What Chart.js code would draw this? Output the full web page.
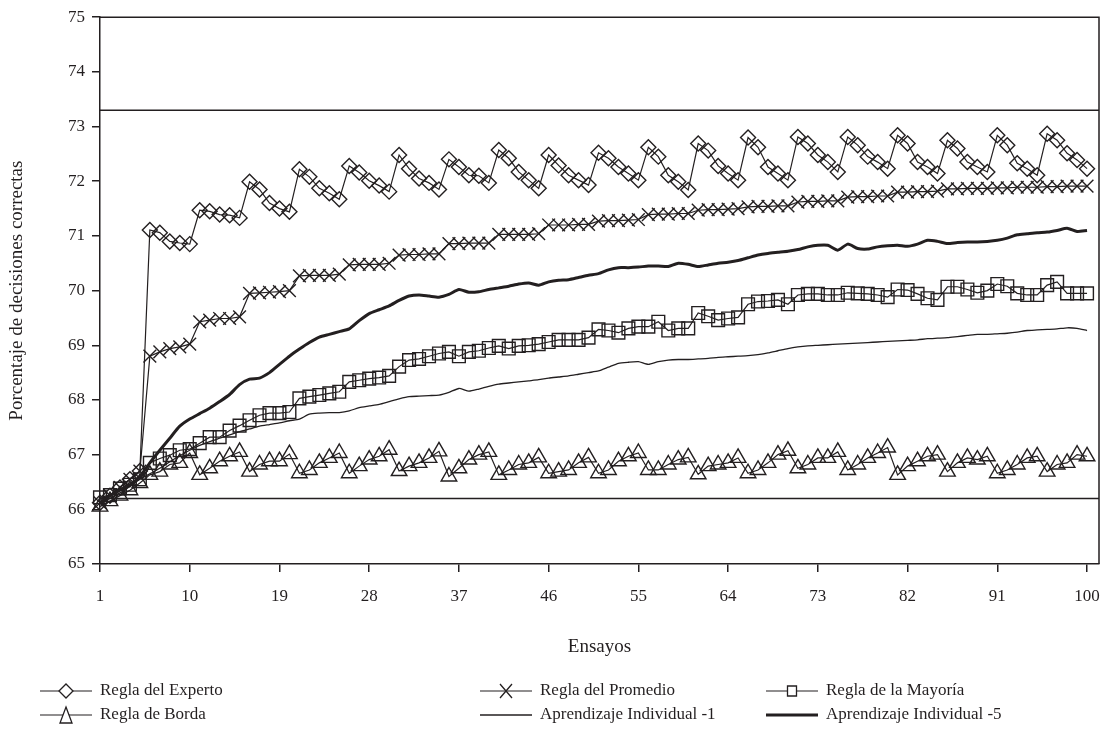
<!DOCTYPE html>
<html>
<head>
<meta charset="utf-8">
<script src="https://cdn.jsdelivr.net/npm/chart.js"></script>
<style>
  html, body { margin: 0; padding: 0; background: #fff; }
  #wrap { width: 1116px; height: 737px; position: relative; }
</style>
</head>
<body>
<div id="wrap"><canvas id="grafico"></canvas></div>
<script>
// Ensayos (eje x)
const trials = [1,2,3,4,5,6,7,8,9,10,11,12,13,14,15,16,17,18,19,20,
  21,22,23,24,25,26,27,28,29,30,31,32,33,34,35,36,37,38,39,40,
  41,42,43,44,45,46,47,48,49,50,51,52,53,54,55,56,57,58,59,60,
  61,62,63,64,65,66,67,68,69,70,71,72,73,74,75,76,77,78,79,80,
  81,82,83,84,85,86,87,88,89,90,91,92,93,94,95,96,97,98,99,100];
const xTicks = [1, 10, 19, 28, 37, 46, 55, 64, 73, 82, 91, 100];

// Regla del Experto
const expert = [66.12,66.25,66.4,66.55,66.7,
  71.11,71.06,70.9,70.87,70.85, 71.47,71.45,71.39,71.38,71.33,
  71.99,71.85,71.6,71.5,71.44, 72.22,72.08,71.87,71.78,71.67,
  72.28,72.16,72.01,71.92,71.81, 72.48,72.23,72.05,71.97,71.85,
  72.4,72.26,72.11,72.1,71.97, 72.57,72.42,72.17,72.02,71.87,
  72.48,72.29,72.11,72.02,71.93, 72.52,72.42,72.26,72.14,72.02,
  72.62,72.45,72.11,71.99,71.84, 72.69,72.56,72.28,72.14,72.02,
  72.8,72.62,72.26,72.14,72.02, 72.81,72.69,72.48,72.35,72.17,
  72.81,72.66,72.45,72.35,72.23, 72.84,72.69,72.35,72.26,72.14,
  72.75,72.6,72.35,72.26,72.17, 72.84,72.66,72.33,72.23,72.11,
  72.87,72.75,72.51,72.39,72.23];

// Regla del Promedio
const average = [66.12,66.25,66.4,66.55,66.7,
  68.8,68.88,68.94,68.97,69.02, 69.43,69.46,69.49,69.49,69.52,
  69.95,69.96,69.97,69.98,70.0, 70.27,70.28,70.28,70.28,70.3,
  70.47,70.48,70.48,70.48,70.5, 70.65,70.66,70.66,70.67,70.67,
  70.86,70.86,70.87,70.87,70.87, 71.03,71.03,71.03,71.03,71.04,
  71.2,71.2,71.2,71.21,71.21, 71.27,71.28,71.28,71.29,71.3,
  71.39,71.4,71.4,71.41,71.41, 71.47,71.48,71.48,71.49,71.5,
  71.53,71.54,71.54,71.55,71.55, 71.62,71.63,71.63,71.64,71.64,
  71.71,71.72,71.72,71.73,71.73, 71.8,71.8,71.81,71.81,71.82,
  71.86,71.86,71.87,71.87,71.87, 71.88,71.88,71.89,71.89,71.89,
  71.9,71.9,71.91,71.91,71.91];

// Regla de la Mayoría
const majority = [66.22,66.26,66.38,66.45,66.55,
  66.85,66.93,66.99,67.08,67.1, 67.21,67.32,67.32,67.44,67.53,
  67.63,67.72,67.76,67.76,67.78, 68.03,68.06,68.09,68.12,68.15,
  68.33,68.36,68.39,68.41,68.44, 68.61,68.73,68.75,68.8,68.85,
  68.88,68.8,68.88,68.9,68.95, 68.99,68.94,68.99,69.0,69.02,
  69.06,69.1,69.1,69.1,69.14, 69.29,69.27,69.23,69.31,69.34,
  69.34,69.43,69.27,69.31,69.31, 69.59,69.53,69.46,69.49,69.51,
  69.75,69.8,69.81,69.83,69.75, 69.92,69.94,69.94,69.92,69.92,
  69.96,69.95,69.94,69.92,69.88, 70.02,70.01,69.94,69.86,69.83,
  70.07,70.07,70.02,69.96,70.0, 70.12,70.08,69.95,69.92,69.92,
  70.1,70.16,69.95,69.95,69.95];

// Regla de Borda
const borda = [66.05,66.15,66.25,66.35,66.48,
  66.63,66.69,66.82,66.85,67.03, 66.63,66.75,66.88,66.97,67.05,
  66.69,66.82,66.88,66.88,67.01, 66.66,66.72,66.85,66.94,67.03,
  66.66,66.79,66.91,66.97,67.09, 66.7,66.79,66.85,66.94,67.06,
  66.6,66.75,66.91,67.0,67.05, 66.63,66.72,66.82,66.85,66.95,
  66.66,66.69,66.72,66.85,66.95, 66.66,66.72,66.88,66.97,67.03,
  66.72,66.72,66.82,66.91,66.95, 66.64,66.79,66.82,66.85,66.94,
  66.66,66.72,66.85,67.0,67.07, 66.75,66.82,66.94,66.94,67.05,
  66.72,66.82,66.94,67.03,67.13, 66.63,66.79,66.88,66.97,67.0,
  66.69,66.85,66.94,66.91,66.97, 66.66,66.72,66.82,66.94,66.97,
  66.69,66.82,66.85,67.0,66.97];

// Aprendizaje Individual -1
const individual1 = [66.1,66.2,66.3,66.42,66.55,66.65,66.75,66.87,66.98,67.08,
  67.17,67.24,67.3,67.36,67.42,67.47,67.52,67.55,67.58,67.62,
  67.65,67.74,67.76,67.77,67.77,67.8,67.86,67.89,67.92,67.97,
  68.02,68.06,68.07,68.08,68.09,68.14,68.21,68.16,68.2,68.25,
  68.29,68.31,68.33,68.35,68.37,68.4,68.42,68.44,68.47,68.5,
  68.53,68.6,68.67,68.69,68.7,68.65,68.7,68.73,68.74,68.74,
  68.75,68.76,68.78,68.79,68.8,68.81,68.83,68.86,68.9,68.94,
  68.97,68.99,69.0,69.01,69.02,69.03,69.04,69.05,69.06,69.07,
  69.08,69.09,69.1,69.12,69.13,69.14,69.16,69.18,69.2,69.2,
  69.21,69.22,69.24,69.27,69.28,69.29,69.3,69.32,69.31,69.27];

// Aprendizaje Individual -5
const individual5 = [66.12,66.25,66.35,66.45,66.6,66.85,67.08,67.3,67.52,67.65,
  67.75,67.85,67.97,68.1,68.28,68.38,68.4,68.5,68.65,68.8,
  68.93,69.05,69.15,69.2,69.25,69.3,69.45,69.58,69.65,69.72,
  69.82,69.9,69.92,69.9,69.88,69.93,70.02,69.97,69.98,70.02,
  70.05,70.08,70.12,70.14,70.1,70.16,70.19,70.2,70.24,70.28,
  70.31,70.38,70.42,70.42,70.43,70.45,70.45,70.44,70.5,70.48,
  70.44,70.47,70.5,70.52,70.55,70.6,70.65,70.68,70.7,70.72,
  70.75,70.8,70.83,70.83,70.74,70.85,70.77,70.76,70.8,70.82,
  70.83,70.81,70.85,70.92,70.9,70.86,70.88,70.89,70.89,70.9,
  70.92,70.96,71.02,71.04,71.06,71.07,71.1,71.14,71.08,71.1];

// líneas horizontales de referencia
const upperRef = 73.3;
const lowerRef = 66.2;

const ink = '#231f20';
const serif = "'Liberation Serif', 'DejaVu Serif', serif";
const xMin = 1, xMax = 101.2;

function markerSeries(label, data, style, radius) {
  return {
    label, data,
    borderColor: ink, borderWidth: 1.2,
    pointStyle: style, pointRadius: radius, pointHoverRadius: radius,
    pointBorderColor: ink, pointBorderWidth: 1.4,
    pointBackgroundColor: 'rgba(0,0,0,0)',
    tension: 0, clip: false
  };
}
function plainSeries(label, data, width) {
  return { label, data, borderColor: ink, borderWidth: width, pointRadius: 0, tension: 0.2, clip: false };
}
function refLine(value) {
  return {
    label: '', data: [{ x: xMin, y: value }, { x: xMax, y: value }],
    borderColor: ink, borderWidth: 1.5, pointRadius: 0
  };
}

// leyenda propia: dos filas, tres columnas
const legendItems = [
  { text: 'Regla del Experto', mark: 'diamond', lw: 1.2 },
  { text: 'Regla del Promedio', mark: 'cross', lw: 1.2 },
  { text: 'Regla de la Mayoría', mark: 'square', lw: 1.2 },
  { text: 'Regla de Borda', mark: 'triangle', lw: 1.2 },
  { text: 'Aprendizaje Individual -1', mark: null, lw: 1.3 },
  { text: 'Aprendizaje Individual -5', mark: null, lw: 3 }
];

const legendPlugin = {
  id: 'legendaInferior',
  afterDraw(chart) {
    const ctx = chart.ctx;
    const cols = [40, 480, 766];
    const rows = [691, 715];
    ctx.save();
    ctx.strokeStyle = ink;
    ctx.fillStyle = ink;
    ctx.font = '17px ' + serif;
    ctx.textBaseline = 'middle';
    legendItems.forEach((it, i) => {
      const x0 = cols[i % 3], y = rows[Math.floor(i / 3)];
      const x1 = x0 + 52, mx = (x0 + x1) / 2;
      ctx.lineWidth = it.lw;
      ctx.beginPath(); ctx.moveTo(x0, y); ctx.lineTo(x1, y); ctx.stroke();
      ctx.lineWidth = 1.3;
      ctx.beginPath();
      if (it.mark === 'diamond') {
        ctx.fillStyle = '#fff';
        ctx.moveTo(mx - 7, y); ctx.lineTo(mx, y - 7); ctx.lineTo(mx + 7, y); ctx.lineTo(mx, y + 7); ctx.closePath();
        ctx.fill(); ctx.stroke();
      } else if (it.mark === 'cross') {
        ctx.moveTo(mx - 6, y - 7); ctx.lineTo(mx + 6, y + 7);
        ctx.moveTo(mx + 6, y - 7); ctx.lineTo(mx - 6, y + 7);
        ctx.stroke();
      } else if (it.mark === 'square') {
        ctx.fillStyle = '#fff';
        ctx.rect(mx - 4.5, y - 5, 9, 10); ctx.fill(); ctx.stroke();
      } else if (it.mark === 'triangle') {
        ctx.fillStyle = '#fff';
        ctx.moveTo(mx, y - 8); ctx.lineTo(mx + 6, y + 8); ctx.lineTo(mx - 6, y + 8); ctx.closePath();
        ctx.fill(); ctx.stroke();
      }
      ctx.fillStyle = ink;
      ctx.fillText(it.text, x0 + 60, y);
    });
    ctx.restore();
  }
};

// marco superior y derecho
const framePlugin = {
  id: 'marco',
  beforeDatasetsDraw(chart) {
    const a = chart.chartArea, ctx = chart.ctx;
    ctx.save();
    ctx.strokeStyle = ink; ctx.lineWidth = 1.5;
    ctx.beginPath();
    ctx.moveTo(a.left, a.top); ctx.lineTo(a.right, a.top); ctx.lineTo(a.right, a.bottom);
    ctx.stroke();
    ctx.restore();
  }
};

new Chart(document.getElementById('grafico'), {
  type: 'line',
  data: {
    labels: trials,
    datasets: [
      refLine(upperRef),
      refLine(lowerRef),
      plainSeries('Aprendizaje Individual -1', individual1, 1.3),
      plainSeries('Aprendizaje Individual -5', individual5, 3),
      markerSeries('Regla de Borda', borda, 'triangle', 9),
      markerSeries('Regla de la Mayoría', majority, 'rect', 9),
      markerSeries('Regla del Promedio', average, 'crossRot', 9),
      markerSeries('Regla del Experto', expert, 'rectRot', 7.5)
    ]
  },
  options: {
    responsive: true,
    maintainAspectRatio: false,
    animation: false,
    layout: { padding: { left: 0, right: 17, top: 17, bottom: 78 } },
    plugins: { legend: { display: false }, tooltip: { enabled: false } },
    scales: {
      x: {
        type: 'linear', min: xMin, max: xMax,
        afterBuildTicks: s => { s.ticks = xTicks.map(v => ({ value: v })); },
        afterFit: s => { s.height = 95; },
        grid: { drawOnChartArea: false, drawTicks: true, tickLength: 8, color: ink, lineWidth: 1.5 },
        border: { display: true, color: ink, width: 1.5 },
        ticks: { color: ink, font: { family: serif, size: 17 }, padding: 14, maxRotation: 0, autoSkip: false },
        title: { display: true, text: 'Ensayos', color: ink, font: { family: serif, size: 19 }, padding: { top: 0, bottom: 1 } }
      },
      y: {
        min: 65, max: 75,
        afterFit: s => { s.width = 100; },
        grid: { drawOnChartArea: false, drawTicks: true, tickLength: 8, color: ink, lineWidth: 1.5 },
        border: { display: true, color: ink, width: 1.5 },
        ticks: { stepSize: 1, color: ink, font: { family: serif, size: 17 }, padding: 7 },
        title: { display: true, text: 'Porcentaje de decisiones correctas', color: ink, font: { family: serif, size: 19 }, padding: { top: 6, bottom: 0 } }
      }
    }
  },
  plugins: [framePlugin, legendPlugin]
});
</script>
</body>
</html>
